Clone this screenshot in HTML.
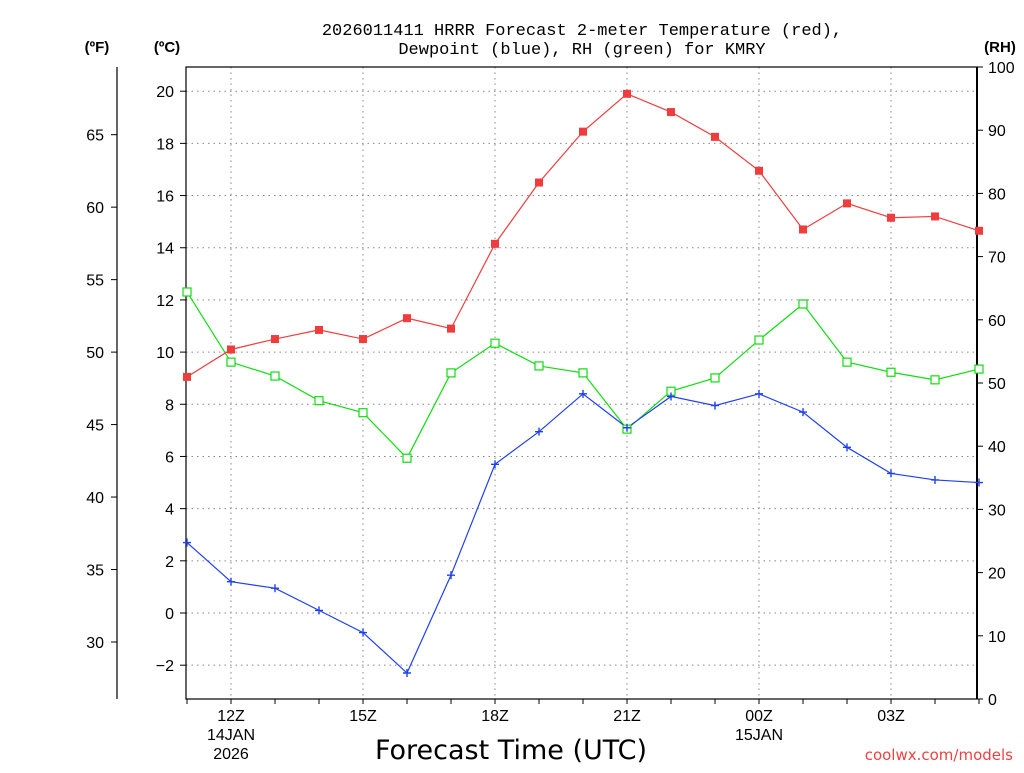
<!DOCTYPE html>
<html><head><meta charset="utf-8"><style>
body{margin:0;background:#fff;}
svg text{font-family:"Liberation Sans","DejaVu Sans",sans-serif;}
</style></head><body>
<svg id="chart" width="1024" height="768" xmlns="http://www.w3.org/2000/svg">
<rect width="1024" height="768" fill="#fff"/>
<g id="grid"></g>
<g id="axes"></g>
<g id="series"></g>
<text x="582" y="35" text-anchor="middle" font-size="17" style="font-family:'Liberation Mono',monospace">2026011411 HRRR Forecast 2-meter Temperature (red),</text>
<text x="582" y="54" text-anchor="middle" font-size="17" style="font-family:'Liberation Mono',monospace">Dewpoint (blue), RH (green) for KMRY</text>
<text x="97" y="52" text-anchor="middle" font-size="15" font-weight="bold">(ºF)</text>
<text x="167" y="52" text-anchor="middle" font-size="15" font-weight="bold">(ºC)</text>
<text x="1000" y="52" text-anchor="middle" font-size="15" font-weight="bold">(RH)</text>
<text x="511" y="759" text-anchor="middle" font-size="27" style="font-family:'DejaVu Sans',sans-serif">Forecast Time (UTC)</text>
<text x="1013" y="760" text-anchor="end" font-size="15" fill="#f04040" style="font-family:'DejaVu Sans',sans-serif">coolwx.com/models</text>
</svg>
<script>
const hours=[11,12,13,14,15,16,17,18,19,20,21,22,23,24,25,26,27,28,29];
const tempC=[9.05,10.1,10.5,10.85,10.5,11.3,10.9,14.15,16.5,18.45,19.9,19.2,18.25,16.95,14.7,15.7,15.15,15.2,14.65];
const dewC=[2.7,1.2,0.95,0.1,-0.75,-2.3,1.45,5.7,6.95,8.4,7.1,8.3,7.95,8.4,7.7,6.35,5.35,5.1,5.0];
const rh=[64.4,53.3,51.1,47.2,45.3,38.1,51.6,56.3,52.7,51.6,42.7,48.7,50.8,56.8,62.5,53.3,51.7,50.5,52.2];
const cTicks=[-2,0,2,4,6,8,10,12,14,16,18,20];
const fTicks=[30,35,40,45,50,55,60,65];
const rhTicks=[0,10,20,30,40,50,60,70,80,90,100];
const xLabelHours=[12,15,18,21,24,27];
const xLabels=["12Z","15Z","18Z","21Z","00Z","03Z"];

const NS="http://www.w3.org/2000/svg";
const L=186,R=977,T=67,B=699;
const xS=h=>187+(h-11)*44;
const yC=c=>613-c*26.09;
const yF=f=>yC((f-32)*5/9);
const yR=v=>B-v*6.32;
function mk(tag,at,parent){const e=document.createElementNS(NS,tag);for(const k in at)e.setAttribute(k,at[k]);document.getElementById(parent).appendChild(e);return e;}
cTicks.forEach(c=>{const e=mk('line',{x1:L,x2:R,y1:yC(c),y2:yC(c),stroke:'#888','stroke-dasharray':'1.5,4'},'grid');

});
xLabelHours.forEach(h=>{const e=mk('line',{x1:xS(h),x2:xS(h),y1:T,y2:B,stroke:'#888','stroke-dasharray':'1.5,4'},'grid');

});
mk('rect',{x:L,y:T,width:R-L,height:B-T,fill:'none',stroke:'#000','stroke-width':1.2},'axes');
mk('line',{x1:R,x2:R,y1:T,y2:B,stroke:'#000','stroke-width':2},'axes');
mk('line',{x1:117,x2:117,y1:67,y2:699,stroke:'#000','stroke-width':1.2},'axes');
cTicks.forEach(c=>{mk('line',{x1:L-6,x2:L,y1:yC(c),y2:yC(c),stroke:'#000'},'axes');
const t=mk('text',{x:L-12,y:yC(c)+6,'text-anchor':'end','font-size':16},'axes');t.textContent=c<0?'\u2212'+(-c):c;

});
fTicks.forEach(f=>{mk('line',{x1:111,x2:117,y1:yF(f),y2:yF(f),stroke:'#000'},'axes');
const t=mk('text',{x:104,y:yF(f)+6,'text-anchor':'end','font-size':16},'axes');t.textContent=f;

});
rhTicks.forEach(v=>{mk('line',{x1:R,x2:R+6,y1:yR(v),y2:yR(v),stroke:'#000'},'axes');
const t=mk('text',{x:988,y:yR(v)+6,'font-size':16},'axes');t.textContent=v;

});
hours.forEach(h=>mk('line',{x1:xS(h),x2:xS(h),y1:B,y2:B+5,stroke:'#000'},'axes'));
xLabelHours.forEach((h,i)=>{const t=mk('text',{x:xS(h),y:721,'text-anchor':'middle','font-size':16},'axes');t.textContent=xLabels[i];

});
[[12,'14JAN',740],[12,'2026',759],[24,'15JAN',740]].forEach(a=>{const t=mk('text',{x:xS(a[0]),y:a[2],'text-anchor':'middle','font-size':16},'axes');t.textContent=a[1];

});
function line(vals,yf,col,name){const p=mk('polyline',{points:vals.map((v,i)=>xS(hours[i])+','+yf(v)).join(' '),fill:'none',stroke:col,'stroke-width':1.2},'series');

}
line(rh,yR,'#10dd10','rh-line');
line(tempC,yC,'#f03c3c','temperature-line');
line(dewC,yC,'#2040f0','dewpoint-line');
rh.forEach((v,i)=>{const e=mk('rect',{x:xS(hours[i])-4,y:yR(v)-4,width:8,height:8,fill:'#fff',stroke:'#10dd10','stroke-width':1.2},'series');

});
tempC.forEach((v,i)=>{const e=mk('rect',{x:xS(hours[i])-4,y:yC(v)-4,width:8,height:8,fill:'#f03c3c'},'series');

});
dewC.forEach((v,i)=>{const x=xS(hours[i]),y=yC(v);const e=mk('path',{d:`M${x-4},${y}H${x+4}M${x},${y-4}V${y+4}`,stroke:'#2040f0','stroke-width':1.4},'series');

});
</script>
</body></html>
